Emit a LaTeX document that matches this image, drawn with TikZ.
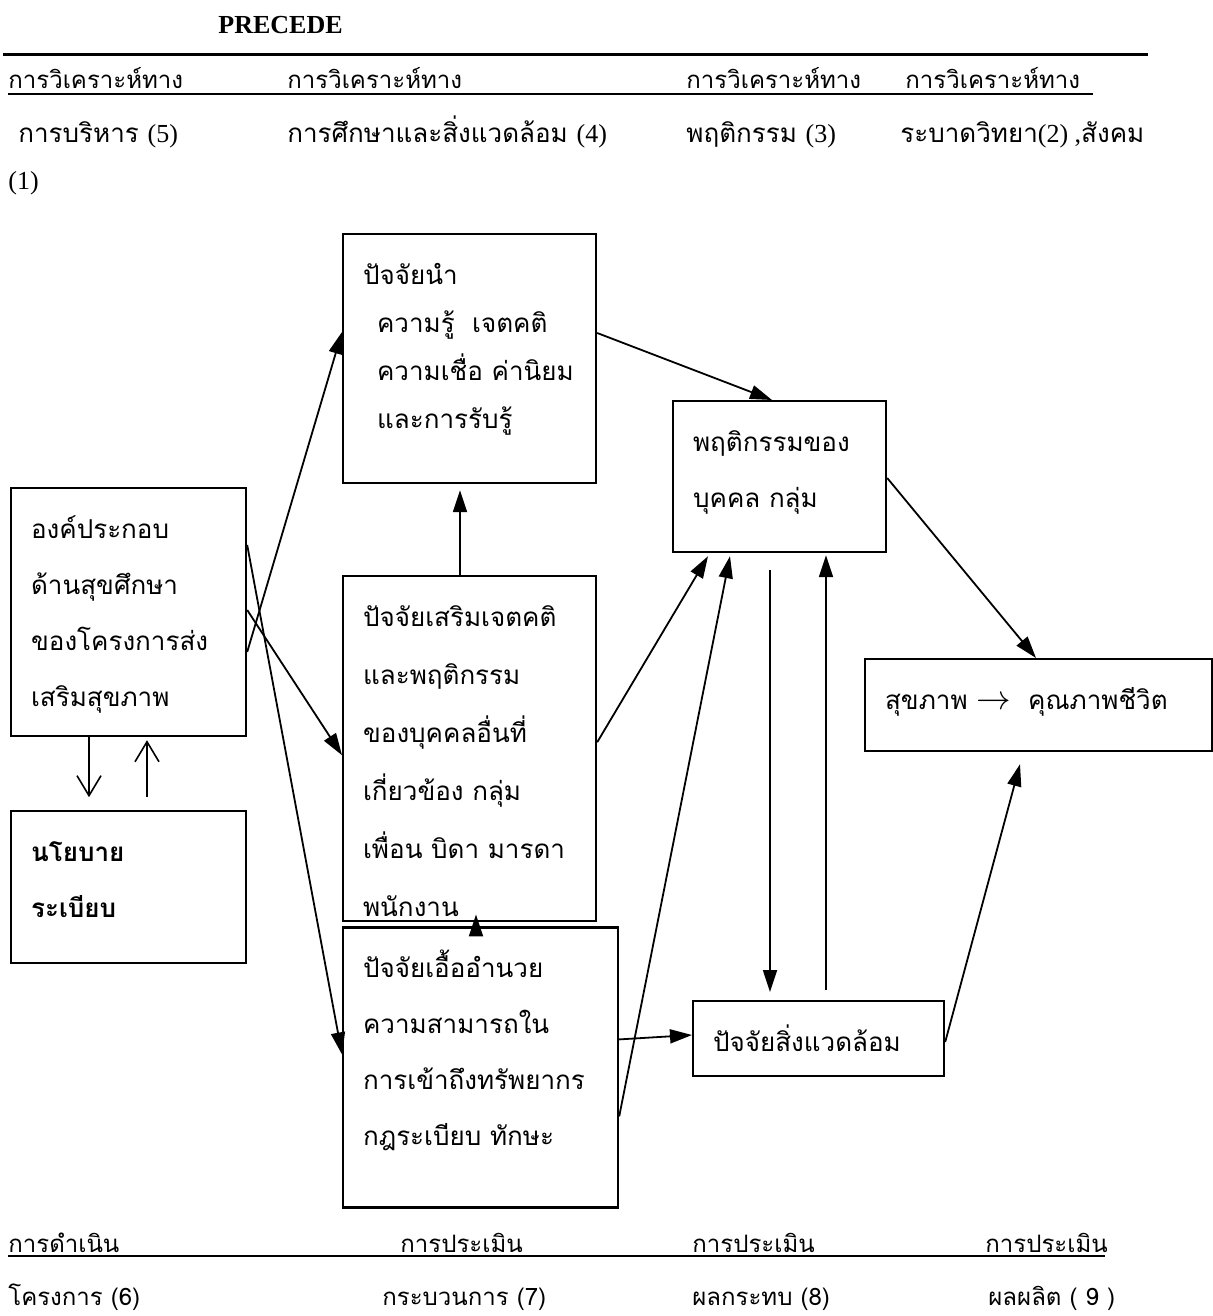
\documentclass[tikz,border=0pt]{standalone}
\usepackage{fontspec}
\setmainfont{Liberation Serif}
\newfontfamily\thai[Script=Thai]{Loma}
\usetikzlibrary{arrows.meta,positioning,calc}

\begin{document}
\begin{tikzpicture}[
  x=0.5pt, y=-0.5pt,
  box/.style={rectangle, draw, line width=1.1pt, inner xsep=10pt, inner ysep=0pt,
    align=left, text height=25pt, anchor=north west,
    font=\thai\fontsize{13}{28}\selectfont},
  head/.style={anchor=base west, inner sep=0pt, font=\thai\fontsize{12}{14}\selectfont},
  sub/.style={head, font=\thai\fontsize{13}{15}\selectfont},
  arrow/.style={-{Triangle[length=11pt,width=7pt]}, line width=0.9pt},
  thin/.style={-{Straight Barb[length=10pt,width=12pt]}, line width=0.8pt}
]
\useasboundingbox (0,0) rectangle (1213,1316);

% title and rules
\node[anchor=west, inner sep=0pt, font=\bfseries\fontsize{13}{15}\selectfont] (title) at (218,25) {PRECEDE};
\draw[line width=1.5pt] (3,55) -- (1148,55);
\draw[line width=0.8pt] (8,94) -- (1093,94);
\draw[line width=0.8pt] (8,1256) -- (1105,1256);

% headings, top
\foreach \x/\n in {8/an5, 287/an4, 686/an3, 905/an2}
  \node[head] (\n) at (\x,89) {การวิเคราะห์ทาง};
\node[sub] (sub5) at (18,143) {การบริหาร {\rmfamily(5)}};
\node[sub] (sub4) at (287,143) {การศึกษาและสิ่งแวดล้อม {\rmfamily(4)}};
\node[sub] (sub3) at (686,143) {พฤติกรรม {\rmfamily(3)}};
\node[sub] (sub2) at (900,143) {ระบาดวิทยา{\rmfamily(2) ,}สังคม};
\node[sub] (sub1) at (8,190) {\rmfamily(1)};

% headings, bottom
\node[head] (ev6) at (8,1252) {การดำเนิน};
\foreach \x/\n in {400/ev7, 692/ev8, 985/ev9}
  \node[head] (\n) at (\x,1252) {การประเมิน};
\node[head] (out6) at (8,1305) {โครงการ (6)};
\node[head] (out7) at (382,1305) {กระบวนการ (7)};
\node[head] (out8) at (692,1305) {ผลกระทบ (8)};
\node[head] (out9) at (988,1305) {ผลผลิต ( 9 )};

% boxes
\node[box, text width=106.5pt, text depth=99.5pt, font=\thai\fontsize{13}{24}\selectfont] (predis) at (342,233)
  {ปัจจัยนำ\\\hspace*{7pt}ความรู้~~เจตคติ\\\hspace*{7pt}ความเชื่อ ค่านิยม\\\hspace*{7pt}และการรับรู้};
\node[box, text width=106.5pt, text depth=147.5pt, below=45.5pt of predis,
  font=\thai\fontsize{13}{29}\selectfont] (reinf)
  {ปัจจัยเสริมเจตคติ\\และพฤติกรรม\\ของบุคคลอื่นที่\\เกี่ยวข้อง กลุ่ม\\เพื่อน บิดา มารดา\\พนักงาน};
\node[box, text width=117.5pt, text depth=115pt, below=2pt of reinf.south west, anchor=north west] (enabl)
  {ปัจจัยเอื้ออำนวย\\ความสามารถใน\\การเข้าถึงทรัพยากร\\กฎระเบียบ ทักษะ};
\node[box, text width=97.5pt, text depth=99pt] (comp) at (10,487)
  {องค์ประกอบ\\ด้านสุขศึกษา\\ของโครงการส่ง\\เสริมสุขภาพ};
\node[box, text width=97.5pt, text depth=51pt, below=36.5pt of comp,
  font=\thai\bfseries\fontsize{13}{28}\selectfont] (policy) {นโยบาย\\ระเบียบ};
\node[box, text width=86.5pt, text depth=50.5pt] (behav) at (672,400) {พฤติกรรมของ\\บุคคล กลุ่ม};
\node[box, text width=105.5pt, text depth=12.5pt] (env) at (692,1000) {ปัจจัยสิ่งแวดล้อม};
\node[box, text width=153.5pt, text depth=21pt] (health) at (864,658)
  {สุขภาพ {\fontsize{19}{19}\selectfont$\rightarrow$} ~คุณภาพชีวิต};

% connectors
\draw[arrow] ($(comp.north east)+(0,165)$) -- ($(predis.north west)+(0,99)$);
\draw[arrow] ($(comp.north east)+(0,123)$) -- ($(reinf.north west)+(0,180)$);
\draw[arrow] ($(comp.north east)+(0,58)$) -- ($(enabl.north west)+(0,128)$);
\draw[thin] ($(comp.south west)+(79,0)$) -- ($(policy.north west)+(79,-13)$);
\draw[thin] ($(policy.north west)+(137,-13)$) -- ($(comp.south west)+(137,3)$);
\draw[arrow] ($(reinf.north west)+(118,0)$) -- ($(predis.south west)+(118,6)$);
\draw[arrow] ($(enabl.north west)+(134,8)$) -- ($(reinf.south west)+(134,-8)$);
\draw[arrow] ($(predis.north east)+(0,100)$) -- ($(behav.north west)+(100,0)$);
\draw[arrow] ($(reinf.north east)+(0,167)$) -- ($(behav.south west)+(36,3)$);
\draw[arrow] ($(enabl.north east)+(0,190)$) -- ($(behav.south west)+(58,3)$);
\draw[arrow] ($(behav.south west)+(98,17)$) -- ($(env.north west)+(78,-8)$);
\draw[arrow] ($(env.north west)+(134,-10)$) -- ($(behav.south west)+(154,2)$);
\draw[arrow] ($(enabl.north east)+(0,113)$) -- ($(env.north west)+(0,35)$);
\draw[arrow] ($(behav.north east)+(0,78)$) -- ($(health.north west)+(172,0)$);
\draw[arrow] ($(env.north east)+(0,42)$) -- ($(health.south west)+(156,12)$);
\end{tikzpicture}
\end{document}
